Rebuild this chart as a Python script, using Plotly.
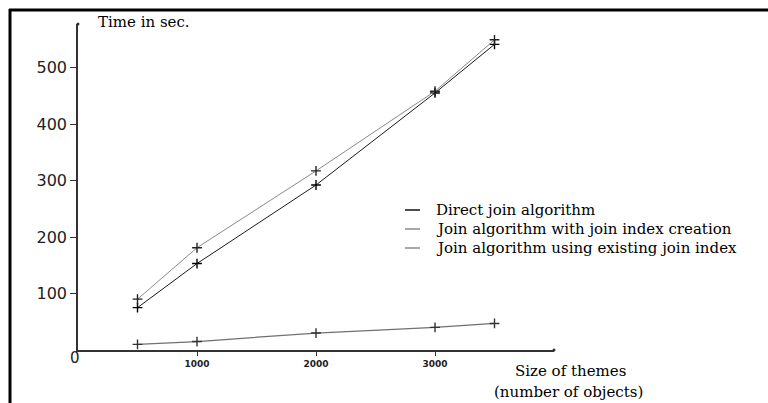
import plotly.graph_objects as go

sizes = [500, 1000, 2000, 3000, 3500]
direct = [75, 153, 292, 455, 541]
with_creation = [90, 181, 317, 458, 549]
existing = [10, 15, 30, 40, 47]

series_names = ["Direct join algorithm",
                "Join algorithm with join index creation",
                "Join algorithm using existing join index"]
series_values = [direct, with_creation, existing]
line_colors = ["#1a1a1a", "#8a8a8a", "#707070"]
marker_colors = ["#000000", "#222222", "#333333"]
line_widths = [1, 1, 1.3]

y_ticks = [100, 200, 300, 400, 500]
x_ticks = [1000, 2000, 3000]

W, H = 768, 403
L, R, T, B = 78, 554, 24, 350  # plot area in pixels


def px(x):
    return (x - L) / (R - L)


def py(y):
    return (B - y) / (B - T)


fig = go.Figure()
for name, vals, lc, mc, lw in zip(series_names, series_values, line_colors, marker_colors, line_widths):
    fig.add_trace(go.Scatter(
        x=sizes, y=vals, name=name, mode="lines+markers",
        line=dict(color=lc, width=lw),
        marker=dict(symbol="cross-thin", size=7, line=dict(color=mc, width=1.4)),
        showlegend=False, cliponaxis=False,
    ))

serif = "DejaVu Serif"
annotations = [
    dict(text="Time in sec.", x=px(96), y=py(22), xref="paper", yref="paper",
         xanchor="left", yanchor="middle", showarrow=False,
         font=dict(family=serif, size=15, color="#000")),
    dict(text="Size of themes", x=px(570), y=py(371), xref="paper", yref="paper",
         xanchor="center", yanchor="middle", showarrow=False,
         font=dict(family=serif, size=15, color="#000")),
    dict(text="(number of objects)", x=px(568), y=py(392), xref="paper", yref="paper",
         xanchor="center", yanchor="middle", showarrow=False,
         font=dict(family=serif, size=15, color="#000")),
    dict(text="0", x=px(75), y=py(358), xref="paper", yref="paper",
         xanchor="center", yanchor="middle", showarrow=False,
         font=dict(family="DejaVu Sans", size=15, color="#222")),
]
shapes = [
    # frame (top and left)
    dict(type="line", xref="paper", yref="paper", x0=px(9), x1=px(768), y0=py(10), y1=py(10),
         line=dict(color="#000", width=3)),
    dict(type="line", xref="paper", yref="paper", x0=px(10), x1=px(10), y0=py(9), y1=py(403),
         line=dict(color="#000", width=3)),
    # axis end dots
    dict(type="circle", xref="paper", yref="paper", x0=px(76.5), x1=px(79.5), y0=py(22.5), y1=py(25.5),
         fillcolor="#333", line=dict(color="#333", width=0)),
    dict(type="circle", xref="paper", yref="paper", x0=px(552.5), x1=px(555.5), y0=py(348.5), y1=py(351.5),
         fillcolor="#333", line=dict(color="#333", width=0)),
]
legend_rows = [210, 229, 248]
legend_dash_colors = ["#111111", "#8a8a8a", "#8a8a8a"]
for name, row, dc in zip(series_names, legend_rows, legend_dash_colors):
    shapes.append(dict(type="line", xref="paper", yref="paper", x0=px(405), x1=px(420),
                       y0=py(row), y1=py(row), line=dict(color=dc, width=1.5)))
    annotations.append(dict(text=name, x=px(434), y=py(row), xref="paper", yref="paper",
                            xanchor="left", yanchor="middle", showarrow=False,
                            font=dict(family=serif, size=15, color="#000")))

fig.update_layout(
    width=W, height=H,
    margin=dict(l=L, r=W - R, t=T, b=H - B, pad=0),
    paper_bgcolor="white", plot_bgcolor="white",
    showlegend=False,
    xaxis=dict(range=[0, 4000], showgrid=False, zeroline=False, showline=True,
               linecolor="#333", linewidth=1.5, ticks="outside", ticklen=4, tickwidth=1.2,
               tickcolor="#333", tickvals=x_ticks, ticktext=[str(v) for v in x_ticks],
               tickfont=dict(family="DejaVu Sans", size=9, color="#222", weight="bold")),
    yaxis=dict(range=[0, 577], showgrid=False, zeroline=False, showline=True,
               linecolor="#333", linewidth=1.5, ticks="outside", ticklen=6, tickwidth=1.2,
               tickcolor="#333", tickvals=y_ticks, ticktext=[str(v) for v in y_ticks],
               tickfont=dict(family="DejaVu Sans", size=16, color="#222")),
    annotations=annotations, shapes=shapes,
)

fig.write_html("out.html", config={"displayModeBar": False})

# remove the browser's default page margin so the figure sits at the window's corner
with open("out.html", encoding="utf-8") as f:
    html = f.read()
html = html.replace("<head>", "<head><style>html,body{margin:0;padding:0;overflow:hidden;}</style>", 1)
with open("out.html", "w", encoding="utf-8") as f:
    f.write(html)
